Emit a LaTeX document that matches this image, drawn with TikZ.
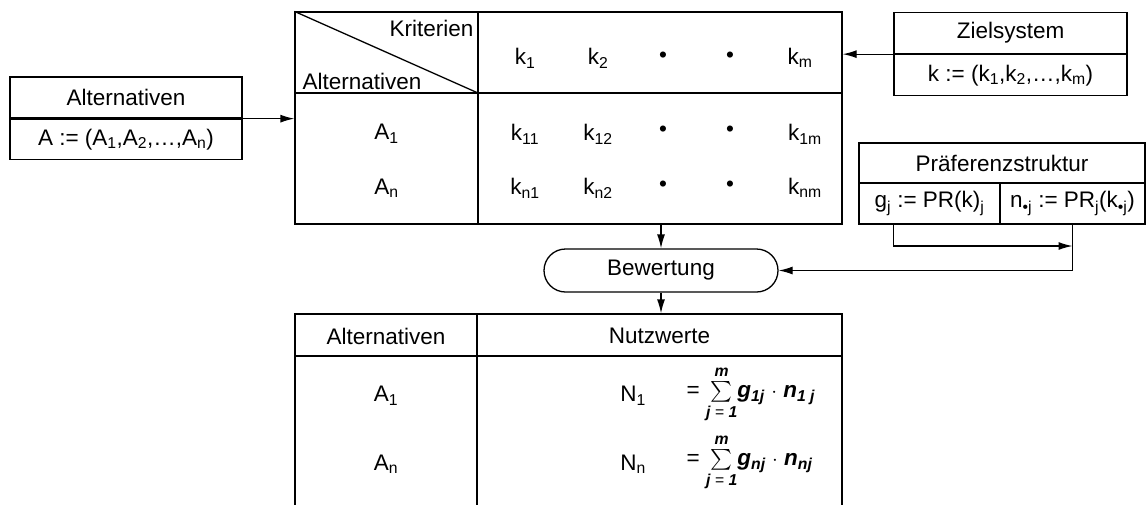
\documentclass[tikz,border=0pt]{standalone}
\usepackage{fontspec}
\setmainfont{Liberation Sans}
\usepackage{amsmath}
\usetikzlibrary{positioning, arrows.meta, shapes.misc}

\newcommand{\bfit}[1]{\textbf{\textit{#1}}}

\begin{document}
\begin{tikzpicture}[x=1pt,y=-1pt,>={Latex[length=14pt,width=8pt]},line width=1.3pt,
    every node/.style={inner sep=0pt,font=\fontsize{22.5}{27}\selectfont},
    box/.style={draw,minimum height=41pt}]
    \useasboundingbox (0,0) rectangle (1147,504);
    % Alternativen
    \node[box,minimum width=232pt] (alt) at (126,97.5) {Alternativen};
    \node[box,minimum width=232pt,minimum height=40pt] (altdef) [below=0pt of alt] {A := (A\textsubscript{1},A\textsubscript{2},\dots,A\textsubscript{n})};
    % Matrix
    \node[box,minimum width=547pt,minimum height=212pt] (mat) at (568.5,118) {};
    \coordinate (corner) at (478,93);
    \draw (mat.north -| corner) -- (mat.south -| corner);
    \draw (mat.west |- corner) -- (mat.east |- corner);
    \draw (mat.north west) -- (corner);
    \node[anchor=east] (krit) at (474,28) {Kriterien};
    \node[anchor=west] (alts) at (302,81) {Alternativen};
    \node (k1) at (525,58) {k\textsubscript{1}};
    \node (k2) at (598,58) {k\textsubscript{2}};
    \node (kd1) at (663,57) {\textbullet};
    \node (kd2) at (730,57) {\textbullet};
    \node (km) at (800,58) {k\textsubscript{m}};
    \node (a1) at (386.5,134) {A\textsubscript{1}};
    \node (k11) at (525,134) {k\textsubscript{11}};
    \node (k12) at (598,134) {k\textsubscript{12}};
    \node (d11) at (663,131) {\textbullet};
    \node (d12) at (730,131) {\textbullet};
    \node (k1m) at (805,134) {k\textsubscript{1m}};
    \node (an) at (386.5,188) {A\textsubscript{n}};
    \node (kn1) at (525,188) {k\textsubscript{n1}};
    \node (kn2) at (598,188) {k\textsubscript{n2}};
    \node (dn1) at (663,186) {\textbullet};
    \node (dn2) at (730,186) {\textbullet};
    \node (knm) at (805,188) {k\textsubscript{nm}};
    % Zielsystem
    \node[box,minimum width=233pt] (ziel) at (1010.5,33) {Zielsystem};
    \node[box,minimum width=233pt] (zieldef) [below=0pt of ziel] {k := (k\textsubscript{1},k\textsubscript{2},\dots,k\textsubscript{m})};
    % Praeferenzstruktur
    \node[box,minimum width=286pt,minimum height=40pt] (pref) at (1002,163) {Präferenzstruktur};
    \node[box,minimum width=141pt] (gdef) at (929.5,203.5) {g\textsubscript{j} := PR(k)\textsubscript{j}};
    \node[box,minimum width=145pt] (ndef) at (1072.5,203.5) {n\textsubscript{\textbullet j} := PR\textsubscript{j}(k\textsubscript{\textbullet j})};
    % Bewertung
    \node[draw,rounded rectangle,minimum width=234pt,minimum height=43pt] (bew) at (661,270.5) {Bewertung};
    % Nutzwerte
    \node[box,minimum width=547pt,minimum height=195pt] (res) at (568.5,411.5) {};
    \coordinate (rcorner) at (477,356);
    \draw (res.north -| rcorner) -- (res.south -| rcorner);
    \draw (res.west |- rcorner) -- (res.east |- rcorner);
    \node (ralt) at (386,336) {Alternativen};
    \node (nutz) at (659.5,336) {Nutzwerte};
    \node (ra1) at (386,396) {A\textsubscript{1}};
    \node (ran) at (386,464) {A\textsubscript{n}};
    \node (n1) at (633,396) {N\textsubscript{1}};
    \node (nn) at (633,464) {N\textsubscript{n}};
    \node[anchor=west] (f1) at (686,394) {= $\sum\limits_{\text{\bfit{j} = \bfit{1}}}^{\text{\bfit{m}}\rule[-3pt]{0pt}{0pt}}$\bfit{g}\textsubscript{\bfit{1j}} $\cdot$ \bfit{n}\textsubscript{\bfit{1 j}}};
    \node[anchor=west] (fn) at (686,462) {= $\sum\limits_{\text{\bfit{j} = \bfit{1}}}^{\text{\bfit{m}}\rule[-3pt]{0pt}{0pt}}$\bfit{g}\textsubscript{\bfit{nj}} $\cdot$ \bfit{n}\textsubscript{\bfit{nj}}};
    % connectors
    \draw[->] (altdef.north east) -- (mat.west |- altdef.north);
    \draw[->] (zieldef.north west) -- (mat.east |- zieldef.north);
    \draw[->] (mat.south -| bew) -- (bew.north);
    \draw[->] (bew.south) -- (res.north -| bew);
    \coordinate (gfoot) at ([xshift=35pt]gdef.south west);
    \draw[->] (gfoot) |- (ndef.south |- 0,246);
    \draw[->] (ndef.south) |- (bew.east);
\end{tikzpicture}
\end{document}
